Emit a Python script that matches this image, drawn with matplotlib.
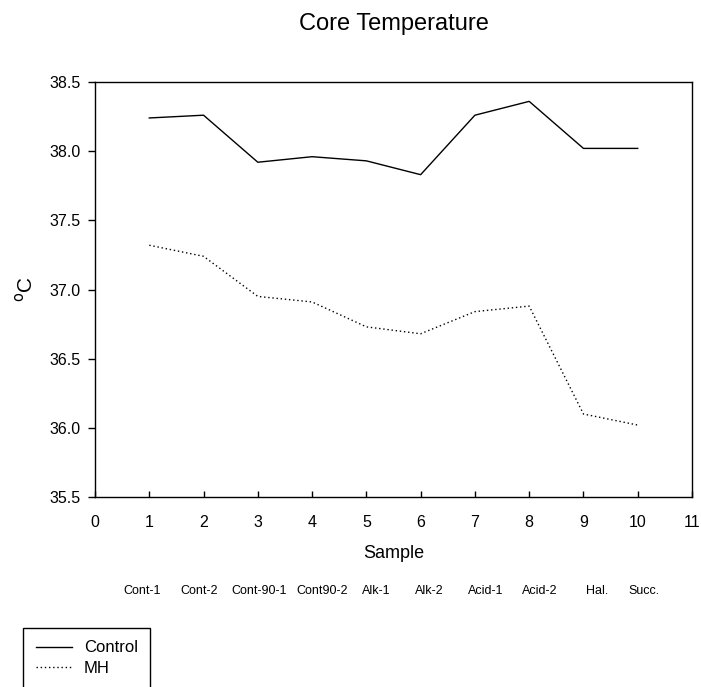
import matplotlib
matplotlib.use("Agg")
import matplotlib.pyplot as plt

plt.rcParams['font.family'] = ['Liberation Sans', 'DejaVu Sans']

# data
samples = [1, 2, 3, 4, 5, 6, 7, 8, 9, 10]
control = [38.24, 38.26, 37.92, 37.96, 37.93, 37.83, 38.26, 38.36, 38.02, 38.02]
mh = [37.32, 37.24, 36.95, 36.91, 36.73, 36.68, 36.84, 36.88, 36.10, 36.02]
sample_names = ["Cont-1", "Cont-2", "Cont-90-1", "Cont90-2", "Alk-1",
                "Alk-2", "Acid-1", "Acid-2", "Hal.", "Succ."]
# centres of the names, in x units of the plot (they don't sit exactly on the ticks)
name_pos = [0.86, 1.92, 3.02, 4.18, 5.19, 6.16, 7.20, 8.20, 9.25, 10.12]

W, H = 701, 687
fig = plt.figure(figsize=(W / 100, H / 100), dpi=100)
ax = fig.add_axes([95 / W, 1 - 497 / H, (692 - 95) / W, (497 - 82) / H])

l1, = ax.plot(samples, control, color='black', lw=1.0, label='Control')
l2, = ax.plot(samples, mh, color='black', lw=1.0, ls=(0, (1, 2)), label='MH')

ax.set_xlim(0, 11)
ax.set_ylim(35.5, 38.5)
ax.set_xticks(range(0, 12))
ax.set_yticks([35.5, 36.0, 36.5, 37.0, 37.5, 38.0, 38.5])
ax.set_yticklabels(["35.5", "36.0", "36.5", "37.0", "37.5", "38.0", "38.5"])
ax.tick_params(axis='y', direction='out', length=5, width=1, labelsize=11.5, pad=5.5)
ax.tick_params(axis='x', direction='in', length=4.5, width=1, labelsize=11.5, pad=13)
for s in ax.spines.values():
    s.set_linewidth(1)

ax.set_xlabel("Sample", fontsize=13, labelpad=11)
ax.set_ylabel("$^{\\mathrm{o}}$C", fontsize=15, labelpad=9)
ax.set_title("Core Temperature", fontsize=17, pad=0, y=1 + (82 - 30) / (497 - 82))

# category names under the x axis
for x, name in zip(name_pos, sample_names):
    ax.text(x, -0.2265, name, transform=ax.get_xaxis_transform(),
            ha='center', va='center', fontsize=9)

leg = fig.legend(handles=[l1, l2], loc='upper left',
                 bbox_to_anchor=(23 / W, 1 - 628 / H), fontsize=12,
                 fancybox=False, framealpha=1, edgecolor='black',
                 handlelength=2.2, handletextpad=0.7, borderpad=0.75,
                 labelspacing=0.35, borderaxespad=0)
leg.get_frame().set_linewidth(1)

fig.savefig("out.png", dpi=100)
